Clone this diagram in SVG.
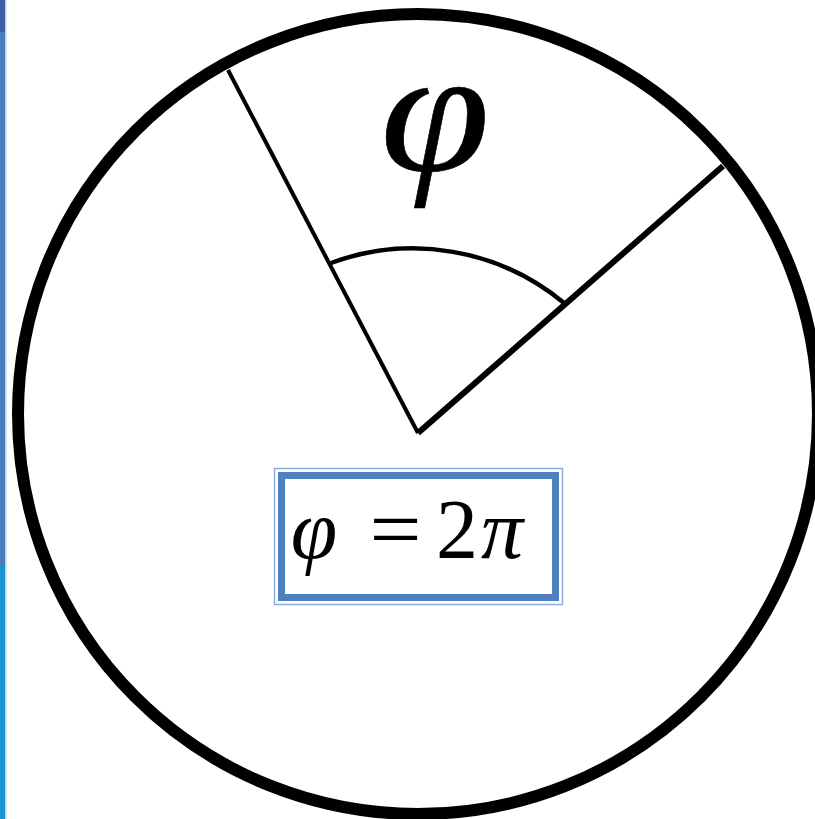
<svg xmlns="http://www.w3.org/2000/svg" width="815" height="819" viewBox="0 0 815 819">
<style>
.ln{stroke:#000;fill:none;stroke-linecap:butt}
.m{font-family:"Liberation Serif","Times New Roman",serif;fill:#000}
</style>
<rect x="0" y="0" width="815" height="819" fill="#fff"/>
<g id="sidebar">
<rect x="0" y="0" width="5" height="32" fill="#3d5ca6"/>
<rect x="0" y="32" width="5" height="534" fill="#4a7dc0"/>
<rect x="0" y="566" width="5" height="253" fill="#1994d2"/>
<rect x="5" y="0" width="1.5" height="819" fill="#b9d4ee"/>
</g>
<g id="circle">
<circle cx="418" cy="414" r="400" class="ln" stroke-width="12"/>
</g>
<g id="connectors">
<line x1="228" y1="70" x2="418" y2="433" class="ln" stroke-width="4"/>
<line x1="418" y1="433" x2="723" y2="166" class="ln" stroke-width="6"/>
<path d="M331,263 A237,237 0 0 1 564,303" class="ln" stroke-width="4.5"/>
</g>
<g id="angle-label">
<text x="435" y="171" class="m" font-size="177" font-style="italic" text-anchor="middle" stroke="#000" stroke-width="0.6" transform="translate(435,0) scale(1.12,1) translate(-435,0)">φ</text>
</g>
<g id="formula">
<rect x="274.5" y="468.5" width="288" height="136" fill="none" stroke="#8aaedc" stroke-width="1.5"/>
<rect x="281.5" y="475.5" width="274" height="122" fill="#fff" stroke="#4f81bd" stroke-width="7"/>
<text x="314" y="558" class="m" font-size="84" font-style="italic" text-anchor="middle">φ</text>
<text x="395.5" y="558" class="m" font-size="84" text-anchor="middle" transform="translate(395.5,0) scale(1.1,1) translate(-395.5,0)">=</text>
<text x="457" y="558" class="m" font-size="84" text-anchor="middle">2</text>
<text x="502" y="558" class="m" font-size="84" font-style="italic" text-anchor="middle">π</text>
</g>
</svg>
